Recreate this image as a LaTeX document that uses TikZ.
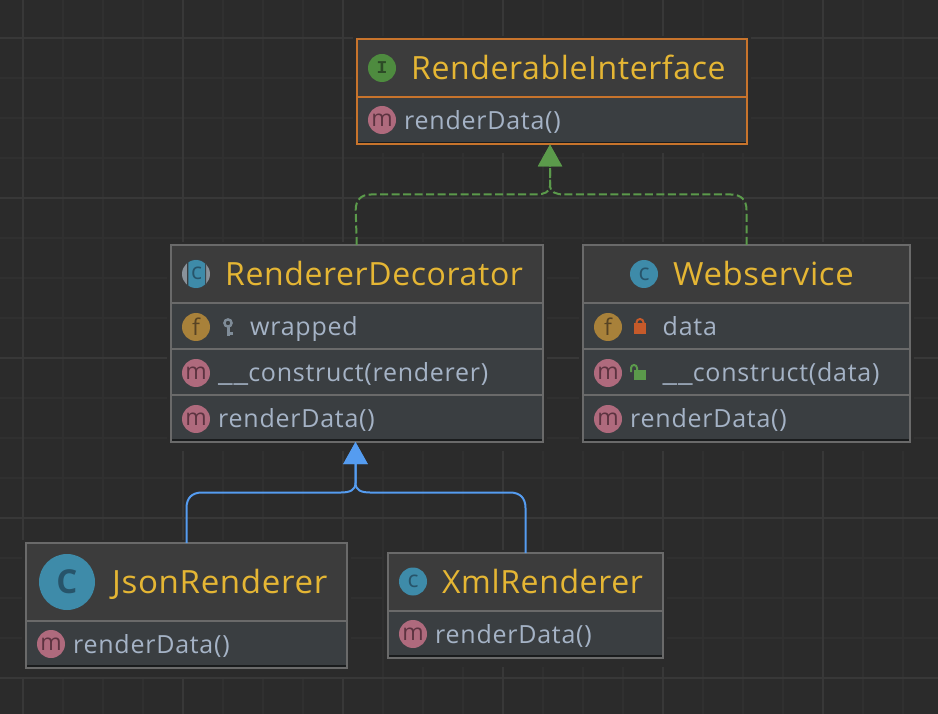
\documentclass[tikz,border=0pt]{standalone}
\usepackage{graphicx}
\usepackage{fontspec}
\setmainfont{Open Sans}
\newfontfamily\titlefont[LetterSpace=1.9]{Open Sans}
\newfontfamily\rowfont[LetterSpace=3.0]{Open Sans}
\newfontfamily\monoicon{Liberation Mono}
\usetikzlibrary{arrows.meta}
\definecolor{bgc}{HTML}{2B2B2B}
\definecolor{gridminor}{HTML}{303030}
\definecolor{gridmajor}{HTML}{383838}
\definecolor{hdrc}{HTML}{3C3C3C}
\definecolor{rowc}{HTML}{3A3E41}
\definecolor{edgec}{HTML}{6A6A6A}
\definecolor{orangec}{HTML}{C8742C}
\definecolor{titlec}{HTML}{E5B634}
\definecolor{rowtext}{HTML}{A5B3C6}
\definecolor{greenc}{HTML}{5B9A4B}
\definecolor{bluec}{HTML}{559CF0}
\definecolor{mfill}{HTML}{AF6A7D}
\definecolor{mtext}{HTML}{5C3340}
\definecolor{ffill}{HTML}{A8813A}
\definecolor{ftext}{HTML}{574324}
\definecolor{cfill}{HTML}{3E8BA9}
\definecolor{ctext}{HTML}{27546A}
\definecolor{ifill}{HTML}{4E8B3F}
\definecolor{itext}{HTML}{2C4A26}
\definecolor{keyc}{HTML}{7F8C98}
\definecolor{lockc}{HTML}{C65A2A}
\definecolor{graycirc}{HTML}{8A929A}
\tikzset{
  x=1pt,y=-1pt,
  umlbox/.style={draw=edgec,line width=2pt,inner sep=0pt,outer sep=0pt,rectangle},
  sepline/.style={line width=2pt},
  titletext/.style={anchor=base west,inner sep=0pt,text=titlec,font=\titlefont\fontsize{32}{36}\selectfont},
  rowlabel/.style={anchor=base west,inner sep=0pt,text=rowtext,font=\rowfont\fontsize{25}{28}\selectfont},
  ico/.style={circle,inner sep=0pt,minimum size=28pt,font=\fontsize{23}{24}\selectfont},
  icom/.style={ico,fill=mfill,text=mtext},
  icof/.style={ico,fill=ffill,text=ftext},
  icoc/.style={ico,fill=cfill,text=ctext},
  icoi/.style={ico,fill=ifill,text=itext,font=\monoicon\fontsize{18}{20}\bfseries\selectfont},
  realize/.style={draw=greenc,line width=2pt,dash pattern=on 8pt off 3.5pt,-{Triangle[length=22pt,width=24pt,color=greenc,sep=0pt]}},
  inherit/.style={draw=bluec,line width=2pt,-{Triangle[length=22pt,width=24pt,color=bluec]}},
}
\newcommand{\wideus}{\scalebox{1.3}[1]{\_\_}}
% #1 name, #2 left, #3 top, #4 right, #5 bottom, #6 header bottom, #7 edge colour
\newcommand{\umlclass}[7]{%
  \fill[bgc] (#2-4,#3-3) rectangle (#4+4,#5+9);
  \fill[rowc] (#2,#6) rectangle (#4,#5);
  \fill[hdrc] (#2,#3) rectangle (#4,#6);
  \draw[black!55!rowc,line width=1.5pt] (#2,#5-2) -- (#4,#5-2);
  \node[umlbox,draw=#7,minimum width={#4-#2},minimum height={#5-#3}] (#1) at ({(#2+#4)/2},{(#3+#5)/2}) {};
  \draw[sepline,#7] (#2,#6) -- (#4,#6);
}
\begin{document}
\begin{tikzpicture}
\useasboundingbox (0,0) rectangle (938,714);
\fill[bgc] (0,0) rectangle (938,714);
% grid
\foreach \gx in {23,63,...,943} \draw[gridminor,line width=1.5pt] (\gx,0) -- (\gx,714);
\foreach \gy in {38,78,...,714} \draw[gridminor,line width=1.5pt] (0,\gy) -- (938,\gy);
\foreach \gx in {23,183,343,503,663,823} \draw[gridmajor,line width=1.5pt] (\gx,0) -- (\gx,714);
\foreach \gy in {38,198,358,518,678} \draw[gridmajor,line width=1.5pt] (0,\gy) -- (938,\gy);

% classes
\umlclass{ri}{357}{39}{746.5}{144.5}{97}{orangec}
\umlclass{rd}{171}{245}{542.5}{442}{303}{edgec}
\draw[sepline,edgec] (171,349) -- (542.5,349);
\draw[sepline,edgec] (171,395) -- (542.5,395);
\umlclass{ws}{583}{245}{910}{442}{303}{edgec}
\draw[sepline,edgec] (583,349) -- (910,349);
\draw[sepline,edgec] (583,395) -- (910,395);
\umlclass{jr}{26}{543}{347}{668}{621}{edgec}
\umlclass{xr}{388}{553}{663}{658}{611}{edgec}

% connectors
\coordinate (jmerge) at (550,186);
\draw[realize] (rd.north) -- (355.7,210) .. controls (355.7,200) and (361,194.5) .. (371,194.5) -- (536,194.5) .. controls (544,194.5) and (550,192) .. (jmerge) -- (ri.south -| jmerge);
\draw[realize] (ws.north) -- (746.5,210) .. controls (746.5,200) and (741,194.5) .. (731,194.5) -- (564,194.5) .. controls (556,194.5) and (550,192) .. (jmerge) -- (ri.south -| jmerge);
\coordinate (bmerge) at (355.5,483);
\draw[inherit] (jr.north) -- (186.5,508) .. controls (186.5,498) and (192,492.5) .. (202,492.5) -- (341,492.5) .. controls (350,492.5) and (355.5,490) .. (bmerge) -- (rd.south -| bmerge);
\draw[inherit] (xr.north) -- (525.5,508) .. controls (525.5,498) and (520,492.5) .. (510,492.5) -- (370,492.5) .. controls (361,492.5) and (355.5,490) .. (bmerge) -- (rd.south -| bmerge);

% RenderableInterface
\node[icoi] (ri0) at (382,68) {I};
\node[titletext] (ri1) at (411,79.5) {RenderableInterface};
\node[icom] (ri2) at (382,120) {m};
\node[rowlabel] (ri3) at (404,129.5) {renderData()};

% RendererDecorator
\fill[graycirc] (196,274) circle (14);
\begin{scope}
\clip (187,258) rectangle (206,290);
\fill[rowc] (196,274) circle (15);
\end{scope}
\begin{scope}
\clip (188.3,258) rectangle (205,290);
\fill[cfill] (196,274) circle (14);
\end{scope}
\node[inner sep=0pt,text=ctext,font=\fontsize{23}{24}\selectfont] (rd0) at (196.5,273) {c};
\node[titletext] (rd1) at (225,285.5) {RendererDecorator};
\node[icof] (rd2) at (196,327) {f};
\draw[keyc,line width=2.4pt] (228,323) circle (3.6);
\draw[keyc,line width=3pt] (228,327) -- (228,336) (228,333.5) -- (233,333.5);
\node[rowlabel] (rd3) at (250,335.5) {wrapped};
\node[icom] (rd4) at (196,373) {m};
\node[rowlabel] (rd5) at (218,381.5) {\wideus construct(renderer)};
\node[icom] (rd6) at (196,419) {m};
\node[rowlabel] (rd7) at (218,427.5) {renderData()};

% Webservice
\node[icoc] (ws0) at (644,274) {c};
\node[titletext] (ws1) at (673,285.5) {\scalebox{1.028}[1]{Webservice}};
\node[icof] (ws2) at (608,327) {f};
\fill[lockc] (634,323.5) rectangle (646,334);
\draw[lockc,line width=2pt] (636.5,324) -- (636.5,322.5) arc[start angle=180,end angle=0,radius=3.5pt] -- (643.5,324);
\node[rowlabel] (ws3) at (662.5,335.5) {data};
\node[icom] (ws4) at (608,373) {m};
\fill[greenc] (634,370) rectangle (646,380);
\draw[greenc,line width=2pt] (637,371) -- (637,368) arc[start angle=0,end angle=180,radius=3pt] -- (631,372);
\node[rowlabel] (ws5) at (662.5,381.5) {\wideus construct(data)};
\node[icom] (ws6) at (608,419) {m};
\node[rowlabel] (ws7) at (630,427.5) {renderData()};

% JsonRenderer
\node[icoc,minimum size=56pt,font=\bfseries\fontsize{33}{36}\selectfont] (jr0) at (67,582) {C};
\node[titletext] (jr1) at (112,593.5) {\scalebox{1.035}[1]{JsonRenderer}};
\node[icom] (jr2) at (51,644) {m};
\node[rowlabel] (jr3) at (73,653) {renderData()};

% XmlRenderer
\node[icoc] (xr0) at (413,581.5) {c};
\node[titletext] (xr1) at (442,593.5) {XmlRenderer};
\node[icom] (xr2) at (413,634) {m};
\node[rowlabel] (xr3) at (435,643) {renderData()};
\end{tikzpicture}
\end{document}
